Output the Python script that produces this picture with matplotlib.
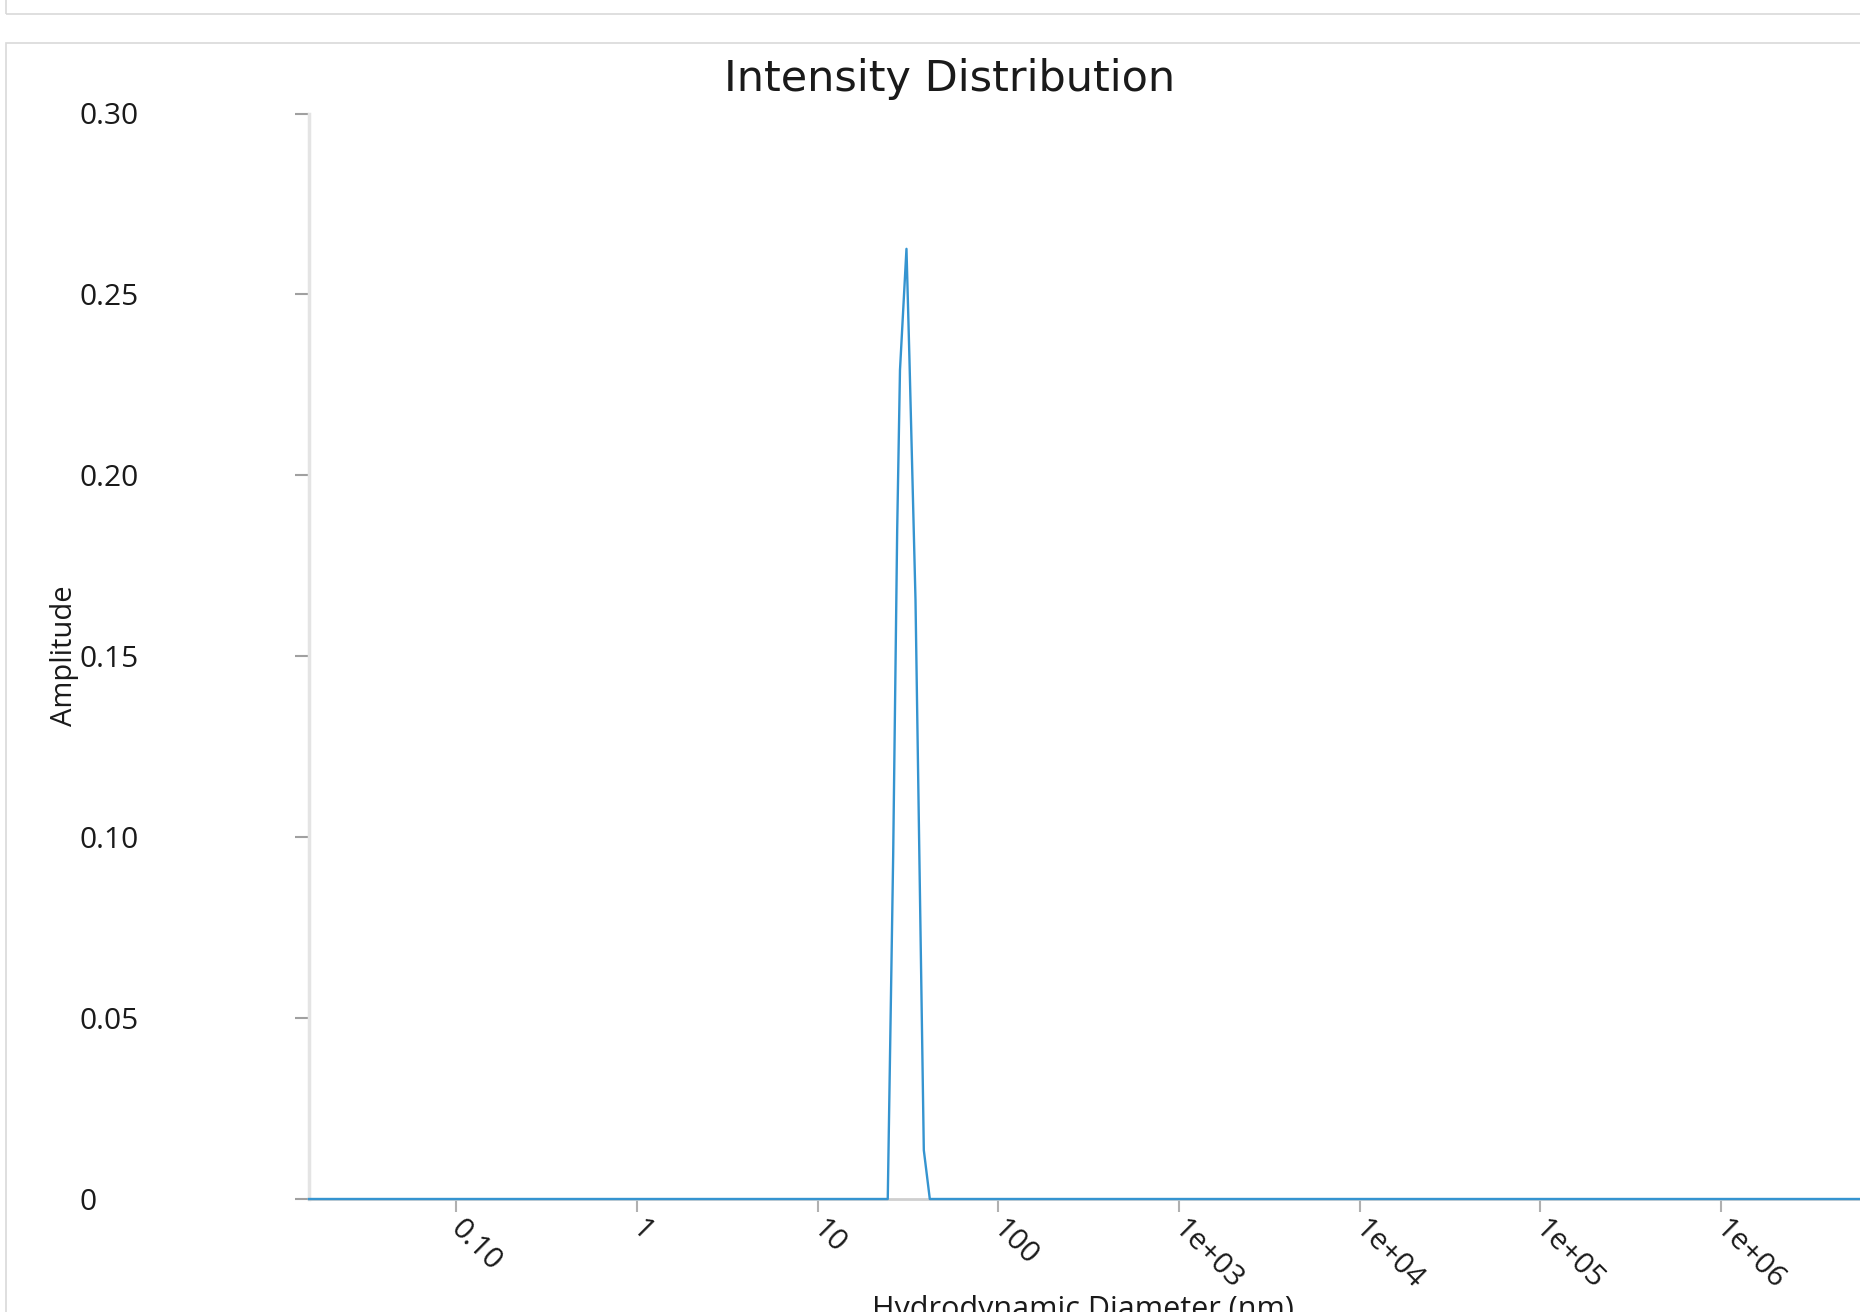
import numpy as np
import matplotlib
matplotlib.use("Agg")
import matplotlib.pyplot as plt
from matplotlib.patches import Rectangle
from matplotlib.transforms import ScaledTranslation

plt.rcParams['font.family'] = ['Open Sans', 'DejaVu Sans']

# ---- data ----
diameter_nm = [0.01527, 24.42, 26.17, 27.54, 28.54, 31.00, 32.21, 34.78, 38.67, 41.74, 5.9e6]
amplitude = [0.0, 0.0, 0.0951, 0.1849, 0.2291, 0.2626, 0.2319, 0.1656, 0.0135, 0.0, 0.0]

x_ticks = [0.1, 1, 10, 100, 1e3, 1e4, 1e5, 1e6]
x_tick_labels = ["0.10", "1", "10", "100", "1e+03", "1e+04", "1e+05", "1e+06"]
y_ticks = [0, 0.05, 0.10, 0.15, 0.20, 0.25, 0.30]
y_tick_labels = ["0", "0.05", "0.10", "0.15", "0.20", "0.25", "0.30"]

W, H = 1860, 1312
fig = plt.figure(figsize=(W / 100, H / 100), dpi=100)

# panel borders
border = '#d9d9d9'
fig.patches.append(Rectangle((6 / W, 1 - 14 / H), 2, 1, transform=fig.transFigure,
                             fill=False, edgecolor=border, linewidth=1.2))
fig.patches.append(Rectangle((6 / W, -1), 2, 1 - 43 / H + 1, transform=fig.transFigure,
                             fill=False, edgecolor=border, linewidth=1.2))

ax_left, ax_right = 309 / W, 1.0
ax_bottom, ax_top = 1 - 1199 / H, 1 - 113.5 / H
ax = fig.add_axes([ax_left, ax_bottom, ax_right - ax_left, ax_top - ax_bottom])

ax.plot(diameter_nm, amplitude, color='#3594d0', linewidth=1.7, zorder=5, clip_on=False)

ax.set_xscale('log')
ax.set_xlim(0.01527, 10 ** 6.77)
ax.set_ylim(0, 0.30)

ax.set_xticks(x_ticks)
ax.set_xticklabels(x_tick_labels)
ax.minorticks_off()
ax.set_yticks(y_ticks)
ax.set_yticklabels(y_tick_labels)

for s in ['top', 'right']:
    ax.spines[s].set_visible(False)
ax.spines['left'].set_color('#e4e4e4')
ax.spines['left'].set_linewidth(2.5)
ax.spines['bottom'].set_color('#cfcfcf')
ax.spines['bottom'].set_linewidth(2.0)

ax.tick_params(axis='y', length=10, width=1.5, color='#a0a0a0', pad=155,
               labelsize=21.5, labelcolor='#1a1a1a')
for lab in ax.get_yticklabels():
    lab.set_horizontalalignment('left')
ax.tick_params(axis='x', length=9, width=1.5, color='#b0b0b0', pad=2,
               labelsize=21.5, labelcolor='#1a1a1a')
shift = ScaledTranslation(9 / 100, 0, fig.dpi_scale_trans)
for lab in ax.get_xticklabels():
    lab.set_rotation(-45)
    lab.set_rotation_mode('anchor')
    lab.set_horizontalalignment('left')
    lab.set_verticalalignment('top')
    lab.set_transform(lab.get_transform() + shift)

fig.text(950 / W, 1 - 91 / H, "Intensity Distribution", ha='center', va='baseline',
         fontsize=31, color='#1a1a1a', family='DejaVu Sans')
fig.text(64 / W, 1 - 656 / H, "Amplitude", rotation=90, ha='center', va='center',
         fontsize=21, color='#1a1a1a')
fig.text(1083 / W, 1 - 1295 / H, "Hydrodynamic Diameter (nm)", ha='center', va='top',
         fontsize=22, color='#1a1a1a')

fig.savefig('out.png', dpi=100, facecolor='white')
